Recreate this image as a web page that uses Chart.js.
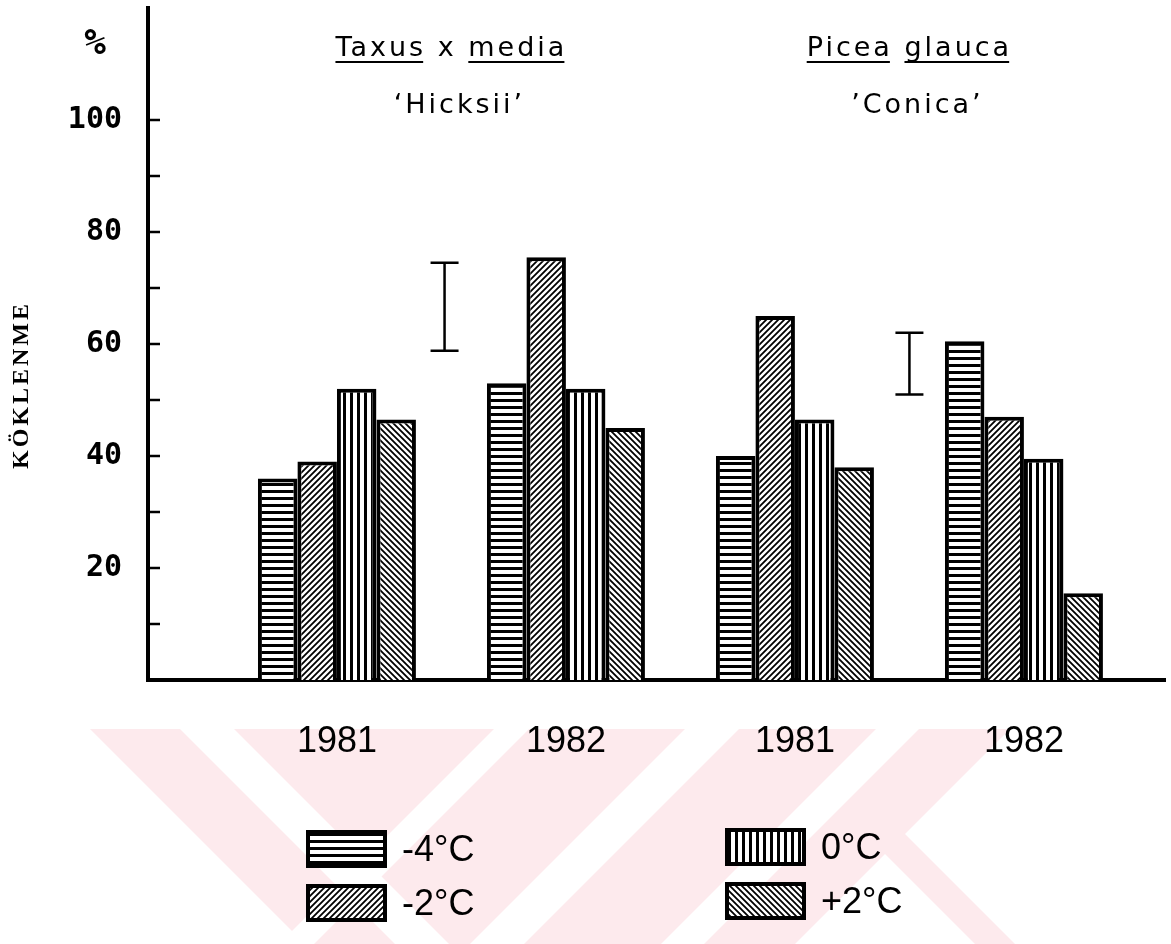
<!DOCTYPE html>
<html>
<head>
<meta charset="utf-8">
<script src="https://cdn.jsdelivr.net/npm/chart.js@4.4.1/dist/chart.umd.min.js"></script>
<style>
  html, body { margin: 0; padding: 0; background: #fff; }
  #wrap { width: 1171px; height: 944px; }
</style>
</head>
<body>
<div id="wrap"><canvas id="myChart" width="1171" height="944"></canvas></div>
<script>
// groups on the x axis
const categories = ['1981', '1982', '1981', '1982'];
const groupPos = [1, 2, 3, 4];
const seriesNames = ['-4°C', '-2°C', '0°C', '+2°C'];

// rooting % per temperature
const minus4 = [36, 53, 40, 60.5];
const minus2 = [39, 75.5, 65, 47];
const zero = [52, 52, 46.5, 39.5];
const plus2 = [46.5, 45, 38, 15.5];

// LSD bars
const lsdPos = [1.47, 3.5];
const lsdLow = [58.8, 51];
const lsdHigh = [74.5, 62];

const yTicks = [20, 40, 60, 80, 100];
const minorTicks = [10, 20, 30, 40, 50, 60, 70, 80, 90, 100];

const speciesLine1 = [['Taxus', 'x', 'media'], ['Picea', 'glauca']];
const speciesLine2 = ['‘Hicksii’', '’Conica’'];
const speciesPos = [1.5, 3.5];

const narrow = '"Liberation Sans Narrow", "Liberation Sans", Arial, sans-serif';

// hatch tiles
function makePattern(kind) {
    let s = kind == 'h' || kind == 'v' ? 7 : 6;
    let c = document.createElement('canvas');
    c.width = s;
    c.height = s;
    let g = c.getContext('2d');
    g.fillStyle = '#fff';
    g.fillRect(0, 0, s, s);
    g.strokeStyle = '#000';
    g.beginPath();
    if (kind == 'h') {
        g.lineWidth = 3;
        g.moveTo(0, 1.5); g.lineTo(s, 1.5);
    } else if (kind == 'v') {
        g.lineWidth = 3;
        g.moveTo(1.5, 0); g.lineTo(1.5, s);
    } else if (kind == 'f') {
        // "/"
        g.lineWidth = 1.8;
        g.moveTo(0, s); g.lineTo(s, 0);
        g.moveTo(-1, 1); g.lineTo(1, -1);
        g.moveTo(s - 1, s + 1); g.lineTo(s + 1, s - 1);
    } else {
        // "\"
        g.lineWidth = 1.8;
        g.moveTo(0, 0); g.lineTo(s, s);
        g.moveTo(-1, s - 1); g.lineTo(1, s + 1);
        g.moveTo(s - 1, -1); g.lineTo(s + 1, 1);
    }
    g.stroke();
    return g.createPattern(c, 'repeat');
}

const fills = [makePattern('h'), makePattern('f'), makePattern('v'), makePattern('b')];
const seriesValues = [minus4, minus2, zero, plus2];

let datasets = seriesValues.map(function (vals, i) {
    return {
        label: seriesNames[i],
        data: vals.map((v, j) => ({ x: groupPos[j], y: v })),
        backgroundColor: fills[i],
        borderColor: '#000',
        borderWidth: 4,
        borderSkipped: 'start',
        barPercentage: 1.0,
        categoryPercentage: 0.69
    };
});

// faint pink watermark behind the lower part
const watermark = {
    id: 'watermark',
    beforeDraw(chart) {
        let c = chart.ctx;
        let top = 729, bot = 944;
        function quad(a, b, d, e) {
            c.beginPath();
            c.moveTo(a, top); c.lineTo(b, top);
            c.lineTo(e, bot); c.lineTo(d, bot);
            c.closePath();
            c.fill();
        }
        c.save();
        c.fillStyle = '#fdeaed';
        quad(90, 1010, 305, 795);
        quad(760, 800, 975, 1015);
        // white gaps
        c.fillStyle = '#fff';
        quad(180, 234, 395, 449);
        quad(494, 529, 279, 314);
        quad(685, 739, 470, 524);
        quad(876, 919, 661, 704);
        c.restore();
    }
};

const extras = {
    id: 'extras',
    afterDraw(chart) {
        let c = chart.ctx;
        let xs = chart.scales.x;
        let ys = chart.scales.y;
        let left = chart.chartArea.left;
        c.save();
        c.strokeStyle = '#000';
        c.fillStyle = '#000';

        // inner ticks
        c.lineWidth = 2.5;
        minorTicks.forEach(function (v) {
            let y = ys.getPixelForValue(v);
            c.beginPath();
            c.moveTo(left, y);
            c.lineTo(left + 12, y);
            c.stroke();
        });

        // LSD bars
        c.lineWidth = 2.5;
        lsdPos.forEach(function (p, i) {
            let x = xs.getPixelForValue(p);
            let y1 = ys.getPixelForValue(lsdHigh[i]);
            let y2 = ys.getPixelForValue(lsdLow[i]);
            c.beginPath();
            c.moveTo(x, y1); c.lineTo(x, y2);
            c.moveTo(x - 14, y1); c.lineTo(x + 14, y1);
            c.moveTo(x - 14, y2); c.lineTo(x + 14, y2);
            c.stroke();
        });

        // % sign
        c.font = 'bold 36px "DejaVu Sans Mono"';
        c.textAlign = 'center';
        c.textBaseline = 'middle';
        c.fillText('%', 95, 45);

        // y title
        c.save();
        c.translate(22, 385);
        c.rotate(-Math.PI / 2);
        c.font = 'bold 24px "Liberation Serif"';
        c.letterSpacing = '3px';
        c.fillText('KÖKLENME', 0, 0);
        c.restore();

        // species titles
        c.font = '27px "DejaVu Sans"';
        c.letterSpacing = '3px';
        c.textAlign = 'left';
        c.textBaseline = 'alphabetic';
        speciesLine1.forEach(function (words, i) {
            let cx = xs.getPixelForValue(speciesPos[i]);
            let full = words.join(' ');
            let x = cx - c.measureText(full).width / 2;
            let spaceW = c.measureText(' ').width;
            words.forEach(function (w) {
                let ww = c.measureText(w).width;
                c.fillText(w, x, 56);
                if (w != 'x') {
                    c.lineWidth = 2;
                    c.beginPath();
                    c.moveTo(x, 62);
                    c.lineTo(x + ww - 3, 62);
                    c.stroke();
                }
                x += ww + spaceW;
            });
        });
        c.textAlign = 'center';
        speciesLine2.forEach(function (t, i) {
            let cx = xs.getPixelForValue(speciesPos[i]) + 8;
            c.fillText(t, cx, 113);
        });
        c.letterSpacing = '0px';

        // legend, 2 x 2
        let boxes = [[308, 832], [308, 886], [727, 830], [727, 884]];
        c.font = '36px ' + narrow;
        c.textAlign = 'left';
        c.textBaseline = 'middle';
        seriesNames.forEach(function (name, i) {
            let bx = boxes[i][0];
            let by = boxes[i][1];
            c.fillStyle = fills[i];
            c.fillRect(bx, by, 77, 34);
            c.lineWidth = 4;
            c.strokeStyle = '#000';
            c.strokeRect(bx, by, 77, 34);
            c.fillStyle = '#000';
            c.fillText(name, bx + 94, by + 19);
        });
        c.restore();
    }
};

let config = {
    type: 'bar',
    data: { datasets: datasets },
    options: {
        responsive: false,
        devicePixelRatio: 1,
        animation: false,
        layout: { padding: { left: 0, right: 6, top: 8, bottom: 0 } },
        plugins: {
            legend: { display: false },
            tooltip: { enabled: false }
        },
        scales: {
            x: {
                type: 'linear',
                offset: false,
                min: 0.175,
                max: 4.616,
                afterBuildTicks: function (s) {
                    s.ticks = groupPos.map(v => ({ value: v }));
                },
                afterFit: function (s) {
                    s.height = 264;
                    s.paddingLeft = 0;
                    s.paddingRight = 0;
                },
                ticks: {
                    callback: function (v) {
                        return categories[groupPos.indexOf(v)];
                    },
                    font: { family: narrow, size: 36 },
                    color: '#000',
                    padding: 40,
                    maxRotation: 0
                },
                grid: { drawOnChartArea: false, drawTicks: false },
                border: { display: true, width: 4, color: '#000' }
            },
            y: {
                min: 0,
                max: 120,
                afterBuildTicks: function (s) {
                    s.ticks = yTicks.map(v => ({ value: v }));
                },
                afterFit: function (s) {
                    s.width = 148;
                    s.paddingTop = 0;
                    s.paddingBottom = 0;
                },
                ticks: {
                    font: { family: '"DejaVu Sans Mono"', size: 30, weight: 'bold' },
                    color: '#000',
                    padding: 26
                },
                grid: { drawOnChartArea: false, drawTicks: false },
                border: { display: true, width: 4, color: '#000' }
            }
        }
    },
    plugins: [watermark, extras]
};

let myChart = new Chart(document.getElementById('myChart'), config);
</script>
</body>
</html>
